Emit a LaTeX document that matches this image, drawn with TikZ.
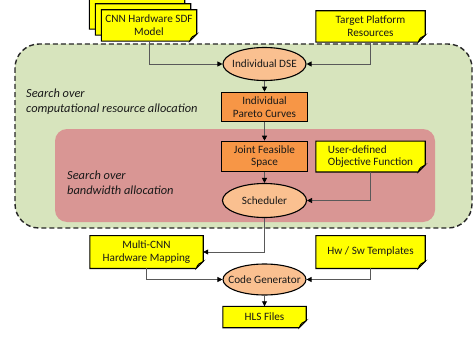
\documentclass[tikz,border=0pt]{standalone}
\usepackage{fontspec}
\setmainfont{Carlito}
\usetikzlibrary{arrows.meta,shapes.geometric,calc}
\pgfdeclarelayer{bg}
\pgfdeclarelayer{mid}
\pgfsetlayers{bg,mid,main}
\definecolor{docyellow}{HTML}{FFFF00}
\definecolor{boxorange}{HTML}{F79646}
\definecolor{ellorange}{HTML}{FAC090}
\definecolor{regiongreen}{HTML}{D7E4BD}
\definecolor{regionpink}{HTML}{D99694}
\tikzset{
  txt/.style={font=\fontsize{11.2}{12.7}\selectfont, text=black!90},
  docbox/.style={txt, inner sep=0pt, align=center},
  docline/.style={draw=black, line width=1.1pt, fill=docyellow, line join=miter},
  stepbox/.style={txt, rectangle, draw=black, line width=1.1pt, fill=boxorange, inner sep=0pt, align=center},
  procell/.style={txt, ellipse, draw=black, line width=1.1pt, fill=ellorange, inner xsep=-10pt, inner ysep=0pt},
  conn/.style={draw=black!65, line width=0.8pt, -{Triangle[length=5pt,width=5pt,fill=black,color=black]}},
  regionlabel/.style={font=\fontsize{12.4}{15.3}\selectfont\itshape, text=black!90, align=left, inner sep=0pt, anchor=west},
}
\newcommand\docframe[1]{%
  \begin{pgfonlayer}{mid}
    \draw[docline] (#1.north west) -- (#1.north east) -- ([yshift=7pt]#1.south east)
      -- ([xshift=-7pt]#1.south east) -- (#1.south west) -- cycle;
    \draw[black, line width=0.8pt, fill=docyellow]
      ([xshift=-7pt]#1.south east) .. controls ([xshift=-6pt,yshift=4pt]#1.south east)
      and ([xshift=-3pt,yshift=6pt]#1.south east) .. ([yshift=7pt]#1.south east) -- cycle;
  \end{pgfonlayer}}
\begin{document}
\begin{tikzpicture}[x=1pt,y=1pt]
\useasboundingbox (0,0) rectangle (474,-337);
% regions
\begin{pgfonlayer}{bg}
  \draw[fill=regiongreen, draw=black!85, line width=1.4pt, dash pattern=on 5pt off 3pt, rounded corners=24pt]
    (15,-44) rectangle (472,-228);
  \fill[regionpink, rounded corners=12pt] (55,-129) rectangle (435,-222);
\end{pgfonlayer}
\node[regionlabel] (lblc) at (26,-101.5) {Search over\\computational resource allocation};
\node[regionlabel] (lblb) at (67,-182.5) {Search over\\bandwidth allocation};
% stacked documents
\node[docbox, minimum width=95pt, minimum height=31pt] (cnnB) at (137,-13.5) {};
\node[docbox, minimum width=95pt, minimum height=31pt] (cnnM) at (143,-19.5) {};
\node[docbox, minimum width=95pt, minimum height=31pt] (cnn) at (149,-25.5) {CNN Hardware SDF\\Model};
\docframe{cnnB}\docframe{cnnM}\docframe{cnn}
\node[docbox, minimum width=109pt, minimum height=31pt] (tgt) at (370.5,-26.5) {Target Platform\\Resources};
\docframe{tgt}
\node[procell, minimum width=83pt, minimum height=33pt] (dse) at (264.5,-64) {Individual DSE};
\node[stepbox, minimum width=86pt, minimum height=29.5pt] (par) at (264.5,-107) {Individual\\Pareto Curves};
\node[stepbox, minimum width=86pt, minimum height=30.5pt] (joint) at (264.5,-156.5) {Joint Feasible\\Space};
\node[docbox, align=left, minimum width=109pt, minimum height=30.5pt] (user) at (370.5,-156.5) {User-defined\\Objective Function};
\docframe{user}
\node[procell, minimum width=84pt, minimum height=34pt] (sch) at (264.5,-200.5) {Scheduler};
\node[docbox, minimum width=113pt, minimum height=32.5pt] (map) at (146.5,-252) {Multi-CNN\\Hardware Mapping};
\docframe{map}
\node[docbox, minimum width=109pt, minimum height=32.5pt] (hw) at (370.5,-252) {Hw / Sw Templates};
\docframe{hw}
\node[procell, minimum width=83pt, minimum height=31pt] (cg) at (264.5,-279.5) {Code Generator};
\node[docbox, minimum width=83pt, minimum height=21pt] (hls) at (264.5,-317) {HLS Files};
\docframe{hls}
% connectors
\draw[conn] (cnn.south) |- (dse.west);
\draw[conn] (tgt.south) |- (dse.east);
\draw[conn] (dse) -- (par);
\draw[conn] (par) -- (joint);
\draw[conn] (joint) -- (sch);
\draw[conn] (user.south) |- (sch.east);
\draw[conn] (sch.south) |- (map.east);
\draw[conn] (map.south) |- (cg.west);
\draw[conn] (hw.south) |- (cg.east);
\draw[conn] (cg) -- (hls);
\end{tikzpicture}
\end{document}
